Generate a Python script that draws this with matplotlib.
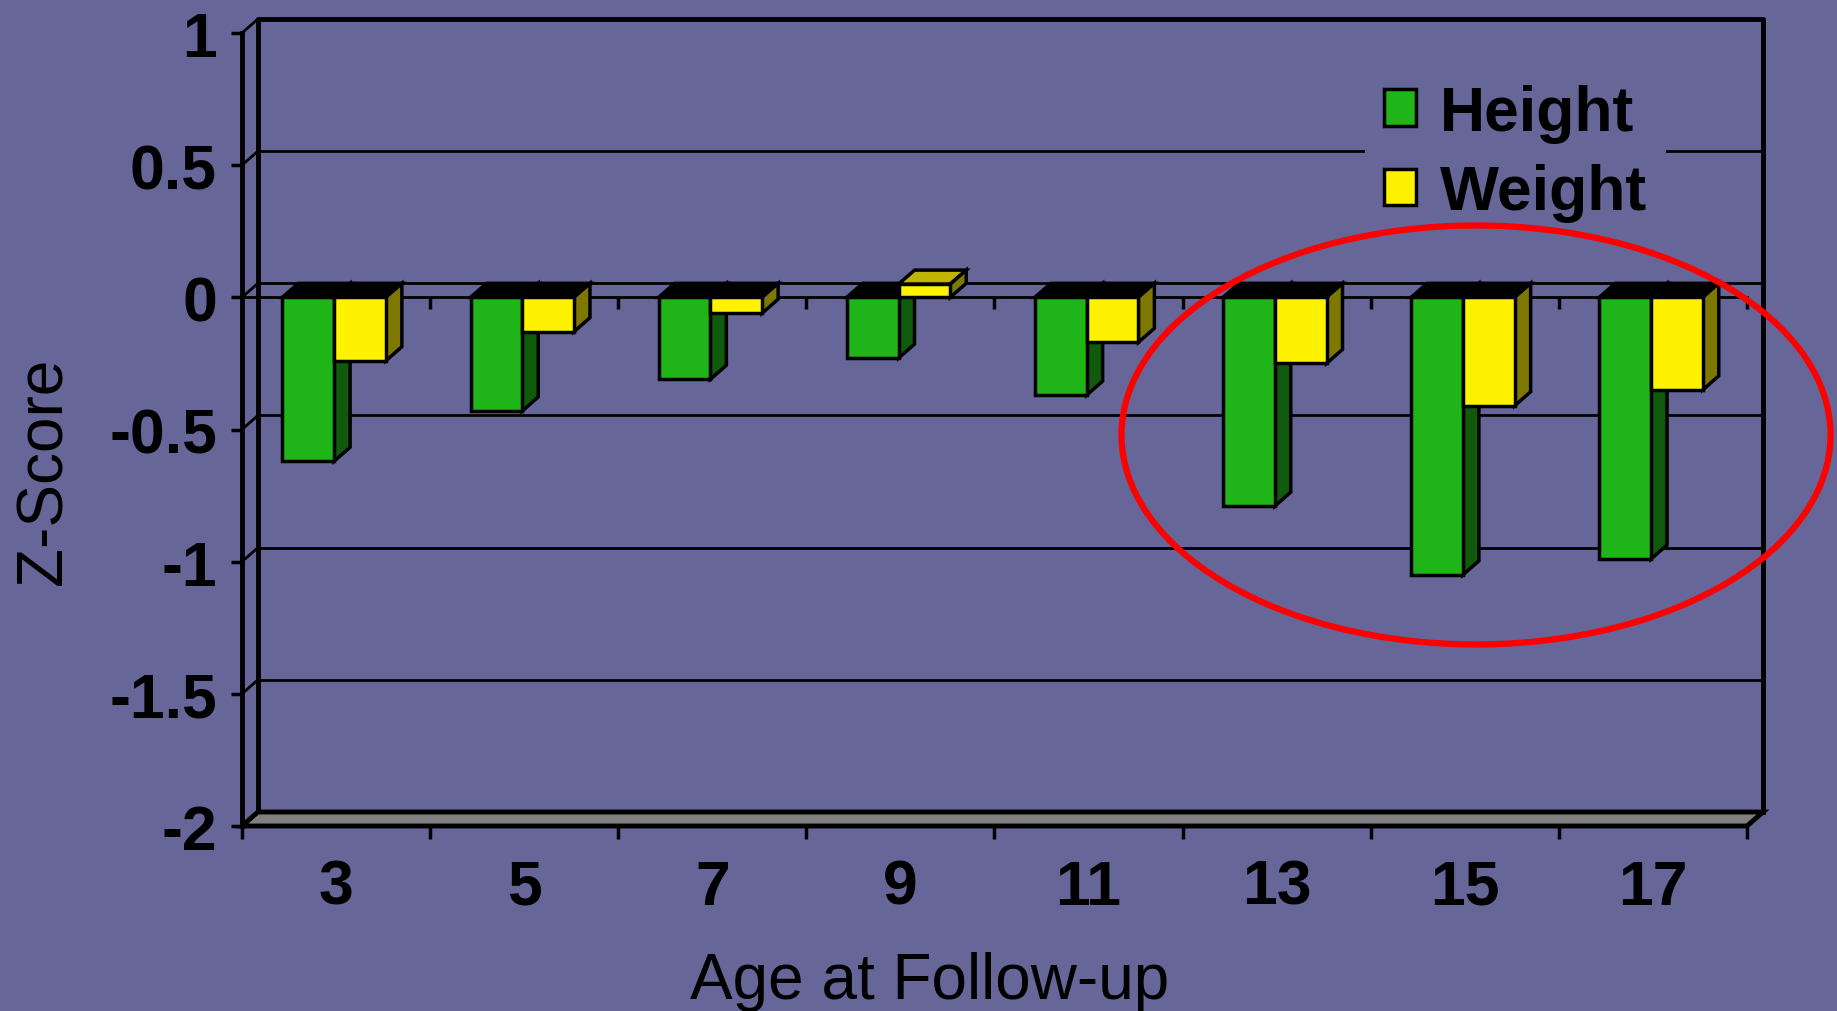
import matplotlib.pyplot as plt
from matplotlib.patches import Polygon, Ellipse, Patch

plt.rcParams['font.family'] = ['Liberation Sans', 'DejaVu Sans']

# z-scores by age at follow-up
ages = ['3', '5', '7', '9', '11', '13', '15', '17']
height_z = [-0.62, -0.43, -0.31, -0.23, -0.37, -0.79, -1.05, -0.99]
weight_z = [-0.24, -0.13, -0.06, 0.05, -0.17, -0.25, -0.41, -0.35]
series_names = ['Height', 'Weight']
y_ticks = [1, 0.5, 0, -0.5, -1, -1.5, -2]

BG = '#666699'
FRONT = {'Height': '#1fb418', 'Weight': '#fff200'}
SIDE = {'Height': '#0f5a0c', 'Weight': '#7f7800'}
TOP = {'Height': '#0f5a0c', 'Weight': '#bfb500'}

fig = plt.figure(figsize=(18.37, 10.12), dpi=100, facecolor=BG)
ax = fig.add_axes([0.1317, 0.1828, 0.8193, 0.7836])
ax.set_facecolor(BG)
ax.patch.set_alpha(0)
n = len(ages)
ax.set_xlim(0, n)
ax.set_ylim(-2, 1)

# depth offset of the pseudo-3d box, in data units
ddx, ddy = 0.085, 0.053
lw_wall = 3.5
lw_grid = 2
lw_bar = 2.5

# back wall and gridlines
ax.plot([ddx, ddx, n + ddx, n + ddx], [-2 + ddy, 1 + ddy, 1 + ddy, -2 + ddy],
        color='black', lw=lw_wall, clip_on=False, zorder=1)
for v in y_ticks[1:-1]:
    ax.plot([ddx, n + ddx], [v + ddy, v + ddy], color='black', lw=lw_grid,
            clip_on=False, zorder=1)
for v in y_ticks:
    ax.plot([0, ddx], [v, v + ddy], color='black', lw=lw_grid, clip_on=False, zorder=1)

# floor
floor = Polygon([(0, -2), (n, -2), (n + ddx, -2 + ddy), (ddx, -2 + ddy)],
                closed=True, facecolor='#808080', edgecolor='black', lw=lw_wall,
                clip_on=False, zorder=2)
ax.add_patch(floor)

# category axis at zero
ax.plot([0, n], [0, 0], color='black', lw=lw_grid, zorder=2, clip_on=False)
ax.vlines(range(n + 1), 0, -0.045, color='black', lw=2.5, zorder=2, clip_on=False)


def draw_bar(x0, w, v, name):
    top = max(v, 0)
    top_face = [(x0, top), (x0 + ddx, top + ddy), (x0 + w + ddx, top + ddy), (x0 + w, top)]
    side_face = [(x0 + w, 0), (x0 + w + ddx, ddy), (x0 + w + ddx, v + ddy), (x0 + w, v)]
    top_col = 'black' if v < 0 else TOP[name]
    for pts, fc in ((top_face, top_col), (side_face, SIDE[name])):
        ax.add_patch(Polygon(pts, closed=True, facecolor=fc, edgecolor='black',
                             lw=lw_bar, joinstyle='miter', zorder=3, clip_on=False))
    ax.bar(x0, v, width=w, align='edge', color=FRONT[name], edgecolor='black',
           lw=lw_bar, zorder=3)


bar_w = 0.275
for i in range(n):
    draw_bar(i + 0.215, bar_w, height_z[i], 'Height')
    draw_bar(i + 0.215 + bar_w, bar_w, weight_z[i], 'Weight')

# axes, ticks and labels
for side in ('top', 'right', 'bottom'):
    ax.spines[side].set_visible(False)
ax.spines['left'].set_linewidth(lw_wall)
ax.set_yticks(y_ticks)
ax.set_yticklabels([f'{v:g}' for v in y_ticks], fontsize=45, fontweight='bold')
ax.tick_params(axis='y', length=8, width=2.5, pad=10, direction='out')
ax.set_xticks([i + 0.5 for i in range(n)])
ax.set_xticklabels(ages, fontsize=45, fontweight='bold')
ax.set_xticks(range(n + 1), minor=True)
ax.tick_params(axis='x', which='major', length=0, pad=23)
ax.tick_params(axis='x', which='minor', length=9, width=2.5, direction='out')

ax.set_ylabel('Z-Score', fontsize=46, va='center')
ax.yaxis.set_label_coords(-0.131, 0.448)
ax.set_xlabel('Age at Follow-up', fontsize=46, va='center')
ax.xaxis.set_label_coords(0.457, -0.195)

handles = [Patch(facecolor=FRONT[s], edgecolor='black', lw=2.5) for s in series_names]
ax.legend(handles, series_names, loc='upper left', bbox_to_anchor=(0.743, 0.935),
          bbox_transform=fig.transFigure, frameon=True, facecolor=BG, edgecolor='none',
          framealpha=1, prop={'size': 45, 'weight': 'bold'}, handlelength=0.52,
          handleheight=0.52, handletextpad=0.38, labelspacing=0.33, borderpad=0.3,
          borderaxespad=0)

# highlight of the older age groups
fig.add_artist(Ellipse((0.8035, 0.5692), 0.386, 0.414, transform=fig.transFigure,
                       fill=False, edgecolor='#ff0000', lw=4.5, zorder=10))

fig.savefig('out.png', dpi=100, facecolor=BG)
